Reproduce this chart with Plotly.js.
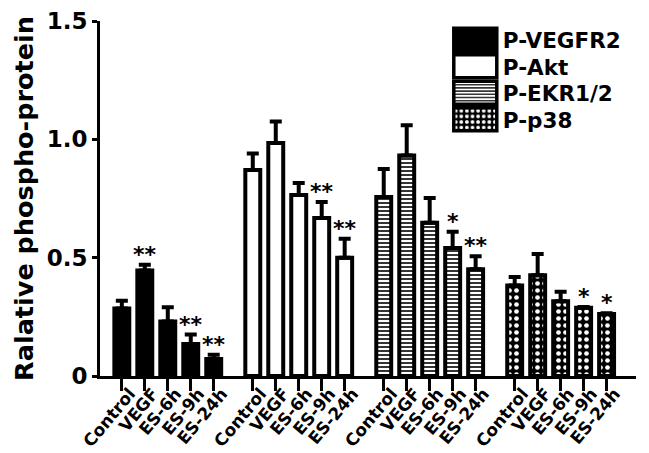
<!DOCTYPE html>
<html>
<head>
<meta charset="utf-8">
<script src="https://cdn.plot.ly/plotly-3.0.1.min.js"></script>
<style>
  html, body { margin: 0; padding: 0; background: #fff; }
  #chart { width: 649px; height: 453px; }
</style>
</head>
<body>
<div id="chart"></div>
<script>
// ---- data ----
var conditions = ['Control', 'VEGF', 'ES-6h', 'ES-9h', 'ES-24h'];
var seriesNames = ['P-VEGFR2', 'P-Akt', 'P-EKR1/2', 'P-p38'];

var vegfr2 = [0.285, 0.446, 0.230, 0.135, 0.072];
var vegfr2Err = [0.033, 0.024, 0.060, 0.040, 0.018];
var vegfr2Sig = ['', '**', '', '**', '**'];

var akt = [0.870, 0.985, 0.765, 0.668, 0.500];
var aktErr = [0.070, 0.090, 0.050, 0.067, 0.080];
var aktSig = ['', '', '', '**', '**'];

var ekr = [0.756, 0.932, 0.648, 0.541, 0.451];
var ekrErr = [0.119, 0.128, 0.104, 0.068, 0.055];
var ekrSig = ['', '', '', '*', '**'];

var p38 = [0.382, 0.426, 0.316, 0.288, 0.262];
var p38Err = [0.036, 0.090, 0.040, 0.004, 0.003];
var p38Sig = ['', '', '', '*', '*'];

var yTickVals = [0, 0.5, 1.0, 1.5];
var yTickText = ['0', '0.5', '1.0', '1.5'];

// ---- layout helpers ----
var FONT = 'DejaVu Sans, Liberation Sans, Arial, sans-serif';
var GROUP_STEP = 5.7;
var values = [vegfr2, akt, ekr, p38];
var errors = [vegfr2Err, aktErr, ekrErr, p38Err];
var sigs = [vegfr2Sig, aktSig, ekrSig, p38Sig];

var styles = [
  { color: '#000000', pattern: { shape: '' } },
  { color: '#ffffff', pattern: { shape: '' } },
  { color: '#ffffff', pattern: { shape: '-', fgcolor: '#000000', bgcolor: '#ffffff', size: 4, solidity: 0.4 } },
  { color: '#000000', pattern: { shape: '.', fgcolor: '#ffffff', bgcolor: '#000000', size: 7, solidity: 0.35 } }
];

function positions(g) {
  return conditions.map(function (c, i) { return g * GROUP_STEP + i; });
}

var traces = [];
var annotations = [];
var tickVals = [];
var tickText = [];

seriesNames.forEach(function (name, g) {
  var xs = positions(g);
  tickVals = tickVals.concat(xs);
  tickText = tickText.concat(conditions);
  traces.push({
    type: 'bar',
    name: name,
    x: xs,
    y: values[g],
    width: 0.65,
    marker: {
      color: styles[g].color,
      pattern: styles[g].pattern,
      line: { color: '#000000', width: 4 }
    },
    error_y: {
      type: 'data',
      symmetric: false,
      array: errors[g],
      arrayminus: values[g].map(function () { return 0; }),
      color: '#000000',
      thickness: 4,
      width: 6
    },
    hoverinfo: 'skip'
  });
  sigs[g].forEach(function (s, i) {
    if (!s) return;
    annotations.push({
      x: xs[i],
      y: values[g][i] + errors[g][i],
      xref: 'x', yref: 'y',
      text: s,
      showarrow: false,
      yanchor: 'bottom',
      xanchor: 'center',
      yshift: -4,
      font: { family: FONT, size: 22, color: '#000', weight: 'bold' }
    });
  });
});

var layout = {
  width: 649,
  height: 453,
  margin: { l: 100, r: 13, t: 21, b: 77 },
  paper_bgcolor: '#ffffff',
  plot_bgcolor: '#ffffff',
  font: { family: FONT, color: '#000000', weight: 'bold' },
  showlegend: true,
  legend: {
    x: 0.647, y: 1.005, xanchor: 'left', yanchor: 'top',
    bgcolor: 'rgba(0,0,0,0)',
    itemwidth: 46,
    font: { family: FONT, size: 21.5, color: '#000', weight: 'bold' },
    itemclick: false, itemdoubleclick: false
  },
  xaxis: {
    range: [-0.95, 22.38],
    tickmode: 'array',
    tickvals: tickVals,
    ticktext: tickText,
    tickangle: -50,
    ticks: 'outside',
    ticklen: 12,
    tickwidth: 3,
    tickcolor: '#000',
    ticklabelshift: 8,
    ticklabelstandoff: -14,
    showline: true,
    linewidth: 3,
    linecolor: '#000',
    showgrid: false,
    zeroline: false,
    tickfont: { family: FONT, size: 17, color: '#000', weight: 'bold' }
  },
  yaxis: {
    range: [0, 1.5],
    tickmode: 'array',
    tickvals: yTickVals,
    ticktext: yTickText,
    ticks: 'outside',
    ticklen: 5,
    tickwidth: 3,
    tickcolor: '#000',
    showline: true,
    linewidth: 3,
    linecolor: '#000',
    showgrid: false,
    zeroline: false,
    tickfont: { family: FONT, size: 23, color: '#000', weight: 'bold' },
    title: { text: 'Ralative phospho-protein', standoff: 6,
             font: { family: FONT, size: 25.5, color: '#000', weight: 'bold' } }
  },
  annotations: annotations,
  bargap: 0
};

Plotly.newPlot('chart', traces, layout, { staticPlot: true, displayModeBar: false }).then(function (gd) {
  // big legend boxes like the reference, with even row spacing
  var items = gd.querySelectorAll('.legend g.traces');
  var y0 = null;
  items.forEach(function (it, i) {
    var m = /translate\(\s*([-\d.]+)[ ,]+([-\d.]+)\s*\)/.exec(it.getAttribute('transform') || '');
    var tx0 = m ? parseFloat(m[1]) : 0;
    var ty0 = m ? parseFloat(m[2]) : 0;
    if (y0 === null) y0 = ty0;
    it.setAttribute('transform', 'translate(' + tx0 + ',' + (y0 + i * 26.5) + ')');
    var txt = it.querySelector('text.legendtext');
    var tx = txt ? parseFloat(txt.getAttribute('x')) : 56;
    it.querySelectorAll('g.legendpoints path').forEach(function (p) {
      p.setAttribute('d', 'M21.5,11.5H-21.5V-11.5H21.5Z');
      p.setAttribute('transform', 'translate(' + (tx - 6 - 21.5) + ',0)');
      p.style.strokeWidth = '3.5px';
    });
  });
});
</script>
</body>
</html>
